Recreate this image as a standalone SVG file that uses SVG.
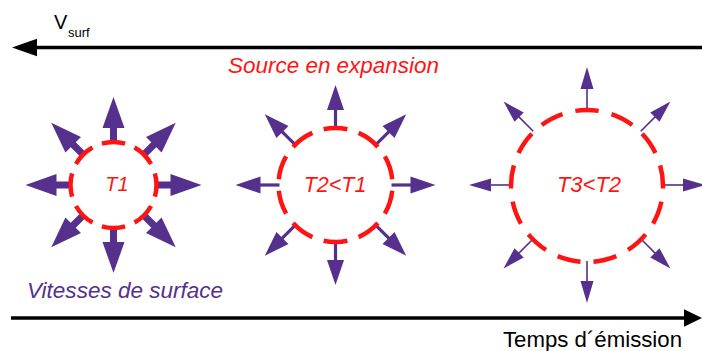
<svg xmlns="http://www.w3.org/2000/svg" xmlns:xlink="http://www.w3.org/1999/xlink" width="702" height="351" viewBox="0 0 702 351">
  <style>
    .axis { stroke: #000; stroke-width: 3.4; fill: none; }
    .head { fill: #000; }
    .ring { fill: none; stroke: #ff1414; stroke-width: 4.5; }
    .red { fill: #ff1414; font-family: "Liberation Sans", Arial, sans-serif; font-style: italic; }
    .purple { fill: #55308d; }
    .lbl { font-family: "Liberation Sans", Arial, sans-serif; fill: #000; }
  </style>
  <defs>
    <g id="a1" class="purple">
      <rect x="42" y="-3.5" width="16" height="7"/>
      <polygon points="57,-11 88,0 57,11"/>
    </g>
    <g id="a2" class="purple">
      <rect x="56" y="-1.6" width="20" height="3.2"/>
      <polygon points="75,-8.5 100,0 75,8.5"/>
    </g>
    <g id="a3" class="purple">
      <rect x="76" y="-0.8" width="21" height="1.6"/>
      <polygon points="96,-6.5 118,0 96,6.5"/>
    </g>
  </defs>

  <g id="connectors">
    <line class="axis" x1="36" y1="47.5" x2="702" y2="47.5"/>
    <polygon class="head" points="12,47.5 37,38.8 37,56.2"/>
    <line class="axis" x1="11" y1="318" x2="686" y2="318"/>
    <polygon class="head" points="702,318 684,309.3 684,326.7"/>
  </g>

  <g id="vsurf-label">
    <text class="lbl" x="54" y="29" font-size="20">V</text>
    <text class="lbl" x="68" y="37" font-size="13">surf</text>
  </g>

  <g id="source-label">
    <text class="red" x="228" y="73" font-size="22.5" textLength="211" lengthAdjust="spacingAndGlyphs">Source en expansion</text>
  </g>

  <g id="t1">
    <use xlink:href="#a1" href="#a1" transform="translate(113.5,185) rotate(0)"/>
    <use xlink:href="#a1" href="#a1" transform="translate(113.5,185) rotate(45)"/>
    <use xlink:href="#a1" href="#a1" transform="translate(113.5,185) rotate(90)"/>
    <use xlink:href="#a1" href="#a1" transform="translate(113.5,185) rotate(135)"/>
    <use xlink:href="#a1" href="#a1" transform="translate(113.5,185) rotate(180)"/>
    <use xlink:href="#a1" href="#a1" transform="translate(113.5,185) rotate(225)"/>
    <use xlink:href="#a1" href="#a1" transform="translate(113.5,185) rotate(270)"/>
    <use xlink:href="#a1" href="#a1" transform="translate(113.5,185) rotate(315)"/>
    <circle class="ring" cx="113.5" cy="185" r="43" pathLength="80" stroke-dasharray="7 3" stroke-dashoffset="3.5"/>
    <text class="red" x="117" y="191" font-size="20" text-anchor="middle">T1</text>
  </g>

  <g id="t2">
    <use xlink:href="#a2" href="#a2" transform="translate(335.5,185) rotate(0)"/>
    <use xlink:href="#a2" href="#a2" transform="translate(335.5,185) rotate(45)"/>
    <use xlink:href="#a2" href="#a2" transform="translate(335.5,185) rotate(90)"/>
    <use xlink:href="#a2" href="#a2" transform="translate(335.5,185) rotate(135)"/>
    <use xlink:href="#a2" href="#a2" transform="translate(335.5,185) rotate(180)"/>
    <use xlink:href="#a2" href="#a2" transform="translate(335.5,185) rotate(225)"/>
    <use xlink:href="#a2" href="#a2" transform="translate(335.5,185) rotate(270)"/>
    <use xlink:href="#a2" href="#a2" transform="translate(335.5,185) rotate(315)"/>
    <circle class="ring" cx="335.5" cy="185" r="57" pathLength="100" stroke-dasharray="6.7 3.3" stroke-dashoffset="8.35"/>
    <text class="red" x="335" y="192" font-size="21.5" text-anchor="middle">T2&lt;T1</text>
  </g>

  <g id="t3">
    <use xlink:href="#a3" href="#a3" transform="translate(587,185) rotate(0)"/>
    <use xlink:href="#a3" href="#a3" transform="translate(587,185) rotate(45)"/>
    <use xlink:href="#a3" href="#a3" transform="translate(587,185) rotate(90)"/>
    <use xlink:href="#a3" href="#a3" transform="translate(587,185) rotate(135)"/>
    <use xlink:href="#a3" href="#a3" transform="translate(587,185) rotate(180)"/>
    <use xlink:href="#a3" href="#a3" transform="translate(587,185) rotate(225)"/>
    <use xlink:href="#a3" href="#a3" transform="translate(587,185) rotate(270)"/>
    <use xlink:href="#a3" href="#a3" transform="translate(587,185) rotate(315)"/>
    <circle class="ring" cx="587" cy="186" r="76" pathLength="130" stroke-dasharray="6.4 3.6" stroke-dashoffset="5.7"/>
    <text class="red" x="589" y="192" font-size="22" text-anchor="middle">T3&lt;T2</text>
  </g>

  <g id="vitesses-label">
    <text class="purple" x="27" y="298" font-size="22.5" font-style="italic" font-family="'Liberation Sans', Arial, sans-serif" textLength="196" lengthAdjust="spacingAndGlyphs">Vitesses de surface</text>
  </g>

  <g id="time-label">
    <text class="lbl" x="503" y="347" font-size="22" textLength="179" lengthAdjust="spacingAndGlyphs">Temps d´émission</text>
  </g>
</svg>
